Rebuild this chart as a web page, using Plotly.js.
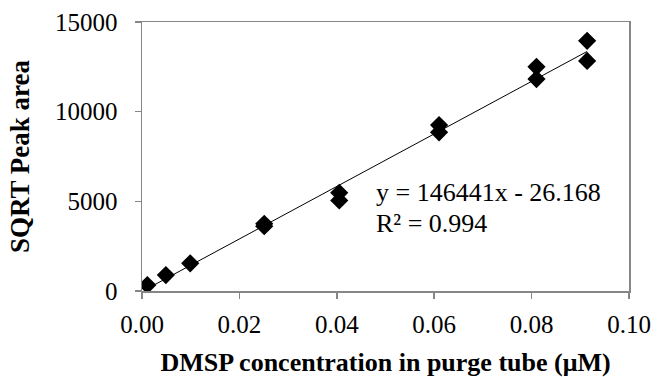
<!DOCTYPE html>
<html>
<head>
<meta charset="utf-8">
<script src="https://cdn.plot.ly/plotly-3.0.1.min.js"></script>
<style>html,body{margin:0;padding:0;background:#fff;}#chart{width:657px;height:377px;}</style>
</head>
<body>
<div id="chart"></div>
<script>
// DMSP concentration in purge tube (µM)
const concentration = [0.0011, 0.0049, 0.0099, 0.0251, 0.0251, 0.0405, 0.0405, 0.0610, 0.0610, 0.0810, 0.0810, 0.0914, 0.0914];
// SQRT Peak area
const sqrtPeakArea = [330, 890, 1545, 3750, 3610, 5480, 5050, 9250, 8850, 12500, 11820, 13950, 12830];
// Linear trendline from the chart's equation
const slope = 146441;
const intercept = -26.168;
const rSquared = 0.994;
const xTicks = [0, 0.02, 0.04, 0.06, 0.08, 0.10];
const yTicks = [0, 5000, 10000, 15000];

const xMin = Math.min(...concentration);
const xMax = Math.max(...concentration);
const trendX = [xMin, xMax];
const trendY = trendX.map(v => slope * v + intercept);

const axisColor = '#868686';
const fontFam = 'Liberation Serif';

const data = [
  {
    x: concentration, y: sqrtPeakArea, type: 'scatter', mode: 'markers',
    marker: {symbol: 'diamond', size: 14, color: '#000', line: {width: 0}},
    showlegend: false
  },
  {
    x: trendX, y: trendY, type: 'scatter', mode: 'lines',
    line: {color: '#000', width: 1}, showlegend: false
  }
];

const layout = {
  width: 657, height: 377,
  margin: {l: 142, r: 28, t: 22, b: 86},
  paper_bgcolor: '#fff', plot_bgcolor: '#fff',
  font: {family: fontFam, color: '#000', size: 25},
  showlegend: false,
  xaxis: {
    range: [0, 0.1], tickvals: xTicks, tickformat: '.2f',
    showgrid: false, zeroline: false,
    showline: true, linecolor: axisColor, linewidth: 1.5, mirror: true,
    ticks: 'outside', ticklen: 6, tickcolor: axisColor, tickwidth: 1.5,
    ticklabelstandoff: 4,
    tickfont: {family: fontFam, size: 25, color: '#000'},
    title: {text: '<b>DMSP concentration in purge tube (μM)</b>', font: {family: fontFam, size: 26, color: '#000'}, standoff: 18},
    automargin: false
  },
  yaxis: {
    range: [0, 15000], tickvals: yTicks, tickformat: 'd',
    showgrid: false, zeroline: false,
    showline: true, linecolor: axisColor, linewidth: 1.5, mirror: true,
    ticks: 'outside', ticklen: 6, tickcolor: axisColor, tickwidth: 1.5,
    ticklabelstandoff: 12,
    tickfont: {family: fontFam, size: 25, color: '#000'},
    title: {text: '<b>SQRT Peak area</b>', font: {family: fontFam, size: 27, color: '#000'}, standoff: 17},
    automargin: false
  },
  annotations: [
    {
      xref: 'paper', yref: 'paper', x: 0.476, y: 0.4275, xanchor: 'left', yanchor: 'top',
      align: 'left', showarrow: false,
      text: 'y = ' + slope + 'x - ' + Math.abs(intercept),
      font: {family: fontFam, size: 26, color: '#000'}
    },
    {
      xref: 'paper', yref: 'paper', x: 0.476, y: 0.3123, xanchor: 'left', yanchor: 'top',
      align: 'left', showarrow: false,
      text: 'R² = ' + rSquared,
      font: {family: fontFam, size: 26, color: '#000'}
    }
  ]
};

Plotly.newPlot('chart', data, layout, {staticPlot: true, displayModeBar: false});
</script>
</body>
</html>
